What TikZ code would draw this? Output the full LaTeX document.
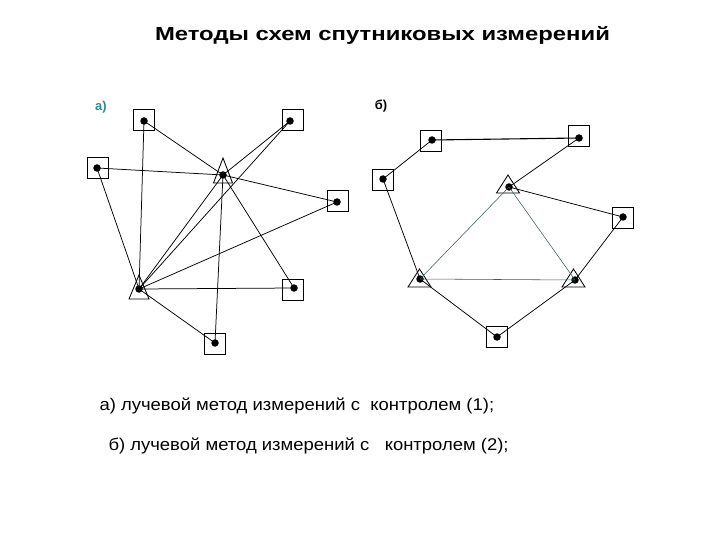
\documentclass[tikz,border=0pt]{standalone}
\usepackage{fontspec}
\setmainfont{Liberation Sans}
\newfontfamily\titlefont[FakeStretch=1.26]{Liberation Sans}
\newfontfamily\capfont[FakeStretch=1.09]{Liberation Sans}
\definecolor{labteal}{RGB}{47,140,140}
\definecolor{thinray}{RGB}{60,90,95}
\begin{document}
\begin{tikzpicture}[x=1bp,y=-1bp,
  stationbox/.style={draw, line width=0.9bp, minimum size=21bp, inner sep=0pt},
  dotc/.style={fill=black, circle, inner sep=0pt, minimum size=7.5bp},
  ray/.style={line width=0.75bp},
  thinr/.style={line width=0.55bp, draw=thinray},
  tri/.style={line width=0.85bp},
  panellabel/.style={font=\bfseries\fontsize{13}{15}\selectfont},
  captext/.style={anchor=west, font=\capfont\fontsize{17}{20}\selectfont}]
\useasboundingbox (0,0) rectangle (720,540);

% title
\node[font=\titlefont\bfseries\fontsize{19}{22}\selectfont] (title) at (382.5,35) {Методы схем спутниковых измерений};

% ---------- panel a ----------
\node[panellabel, text=labteal] (la) at (101,107) {а)};
% boxes
\node[stationbox] (s1b) at (143.5,120) {};
\node[stationbox] (s2b) at (292.5,120) {};
\node[stationbox] (s3b) at (98,167.5) {};
\node[stationbox] (s4b) at (338,200.5) {};
\node[stationbox] (s5b) at (293,289.5) {};
\node[stationbox] (s6b) at (215,344) {};
% triangles
\draw[tri] (213.5,183) -- (223,158) -- (232.5,183) -- cycle;
\draw[tri] (129,299) -- (139,275) -- (149,299) -- cycle;
% dots
\node[dotc] (s1) at (144,121) {};
\node[dotc] (s2) at (290,121) {};
\node[dotc] (s3) at (97,168) {};
\node[dotc] (s4) at (337,202) {};
\node[dotc] (s5) at (294,288) {};
\node[dotc] (s6) at (215,343) {};
\node[dotc] (t1) at (223,175) {};
\node[dotc] (t2) at (139,289) {};
% rays
\foreach \s in {s1,s2,s3,s4,s5,s6}{
  \draw[ray] (\s.center) -- (t1.center);
  \draw[ray] (\s.center) -- (t2.center);
}
\draw[ray] (t1.center) -- (t2.center);

% ---------- panel b ----------
\node[panellabel] (lb) at (381,106) {б)};
\node[stationbox] (q1b) at (431,141) {};
\node[stationbox] (q2b) at (579,136) {};
\node[stationbox] (q3b) at (383,179.5) {};
\node[stationbox] (q4b) at (623,217.5) {};
\node[stationbox] (q5b) at (497,336.5) {};
\draw[tri] (496.5,193) -- (508,175) -- (519.5,193) -- cycle;
\draw[tri] (408,287) -- (419.5,269) -- (431,287) -- cycle;
\draw[tri] (562,287) -- (573.5,269) -- (585,287) -- cycle;
\node[dotc] (q1) at (432,140) {};
\node[dotc] (q2) at (579,138) {};
\node[dotc] (q3) at (383,179) {};
\node[dotc] (q4) at (623,217) {};
\node[dotc] (q5) at (497,337) {};
\node[dotc] (u1) at (509,187) {};
\node[dotc] (u2) at (420,279) {};
\node[dotc] (u3) at (575,280) {};
\draw[line width=1.1bp] (q1.center) -- (q2.center);
\draw[ray] (q1.center) -- (q3.center);
\draw[ray] (q2.center) -- (u1.center);
\draw[ray] (u1.center) -- (q4.center);
\draw[ray] (q3.center) -- (u2.center);
\draw[ray] (q4.center) -- (u3.center);
\draw[ray] (u2.center) -- (q5.center);
\draw[ray] (u3.center) -- (q5.center);
\draw[thinr] (u1.center) -- (u2.center);
\draw[thinr] (u1.center) -- (u3.center);
\draw[thinr] (u2.center) -- (u3.center);

% captions
\node[captext] (capa) at (96,406) {а) лучевой метод измерений с\ \ контролем (1);};
\node[captext] (capb) at (105,446) {б) лучевой метод измерений с\ \ \ контролем (2);};
\end{tikzpicture}
\end{document}
